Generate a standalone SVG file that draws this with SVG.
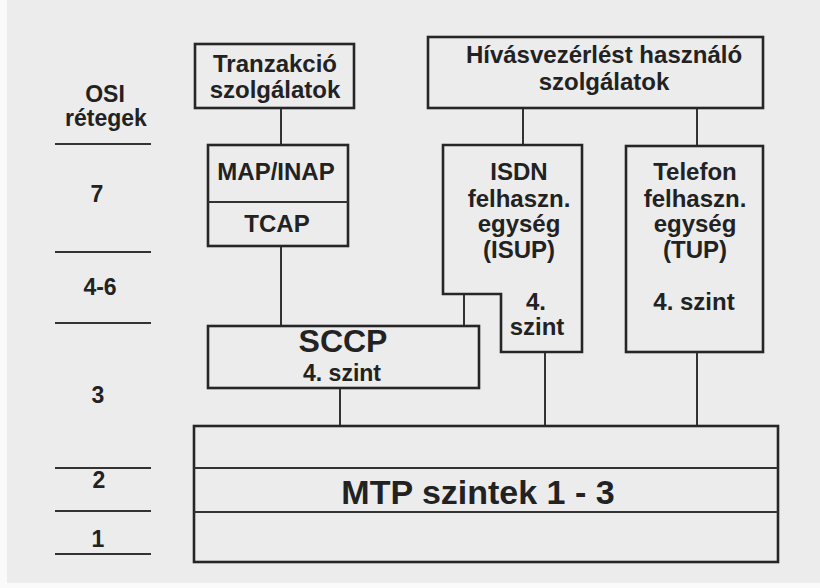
<svg xmlns="http://www.w3.org/2000/svg" width="820" height="588" viewBox="0 0 820 588">
  <style>
    .box { fill: none; stroke: #262626; stroke-width: 2.6; }
    .conn { stroke: #333333; stroke-width: 2; fill: none; }
    .rule { stroke: #333333; stroke-width: 2; }
    text { font-family: "Liberation Sans", Arial, Helvetica, sans-serif; font-weight: bold; fill: #222222; text-anchor: middle; }
    .t { font-size: 24px; }
    .s { font-size: 23px; }
    .n { font-size: 23px; }
    .big { font-size: 32px; }
    .huge { font-size: 34px; }
  </style>

  <!-- paper -->
  <rect x="0" y="0" width="820" height="588" fill="#fafafa"/>
  <rect x="7" y="0" width="813" height="583" fill="#ececec"/>

  <!-- OSI layer scale on the left -->
  <g id="osi-scale">
    <text class="s" x="105" y="102">OSI</text>
    <text class="s" x="106" y="126">rétegek</text>
    <line class="rule" x1="55" y1="144" x2="151" y2="144"/>
    <text class="n" x="97" y="202">7</text>
    <line class="rule" x1="55" y1="252" x2="151" y2="252"/>
    <text class="n" x="100" y="295">4-6</text>
    <line class="rule" x1="55" y1="323" x2="151" y2="323"/>
    <text class="n" x="98" y="403">3</text>
    <line class="rule" x1="55" y1="468" x2="151" y2="468"/>
    <text class="n" x="99" y="488">2</text>
    <line class="rule" x1="55" y1="511" x2="151" y2="511"/>
    <text class="n" x="98" y="547">1</text>
    <line class="rule" x1="55" y1="554" x2="151" y2="554"/>
  </g>

  <!-- connectors -->
  <g id="connectors">
    <line class="conn" x1="281" y1="108" x2="281" y2="145"/>
    <line class="conn" x1="281" y1="246" x2="281" y2="326"/>
    <line class="conn" x1="523" y1="108" x2="523" y2="145"/>
    <line class="conn" x1="697" y1="108" x2="697" y2="146"/>
    <line class="conn" x1="464" y1="294" x2="464" y2="326"/>
    <line class="conn" x1="340" y1="388" x2="340" y2="426"/>
    <line class="conn" x1="545" y1="352" x2="545" y2="426"/>
    <line class="conn" x1="697" y1="352" x2="697" y2="426"/>
  </g>

  <g id="tranzakcio">
    <rect class="box" x="195" y="44" width="159" height="64"/>
    <text class="t" x="275" y="72">Tranzakció</text>
    <text class="t" x="275" y="98">szolgálatok</text>
  </g>

  <g id="hivasvezerles">
    <rect class="box" x="428" y="37" width="335" height="71"/>
    <text class="t" x="604" y="63">Hívásvezérlést használó</text>
    <text class="t" x="604" y="90">szolgálatok</text>
  </g>

  <g id="map-tcap">
    <rect class="box" x="208" y="145" width="140" height="101"/>
    <line class="conn" x1="208" y1="202" x2="348" y2="202"/>
    <text class="t" x="276" y="180">MAP/INAP</text>
    <text class="t" x="277" y="232">TCAP</text>
  </g>

  <g id="isup">
    <path class="box" d="M443,145 H582 V352 H501 V294 H443 Z"/>
    <text class="t" x="519" y="180">ISDN</text>
    <text class="t" x="519" y="207">felhaszn.</text>
    <text class="t" x="519" y="232">egység</text>
    <text class="t" x="519" y="258">(ISUP)</text>
    <text class="t" x="536" y="310">4.</text>
    <text class="t" x="537" y="335">szint</text>
  </g>

  <g id="tup">
    <rect class="box" x="626" y="146" width="137" height="206"/>
    <text class="t" x="695" y="180">Telefon</text>
    <text class="t" x="695" y="207">felhaszn.</text>
    <text class="t" x="695" y="232">egység</text>
    <text class="t" x="695" y="258">(TUP)</text>
    <text class="t" x="694" y="310">4. szint</text>
  </g>

  <g id="sccp">
    <rect class="box" x="208" y="326" width="271" height="62"/>
    <text class="big" x="343" y="352">SCCP</text>
    <text class="n" x="342" y="381">4. szint</text>
  </g>

  <g id="mtp">
    <rect class="box" x="194" y="426" width="584" height="136"/>
    <line class="conn" x1="194" y1="468" x2="778" y2="468"/>
    <line class="conn" x1="194" y1="512" x2="778" y2="512"/>
    <text class="huge" x="478" y="504">MTP szintek 1 - 3</text>
  </g>
</svg>
